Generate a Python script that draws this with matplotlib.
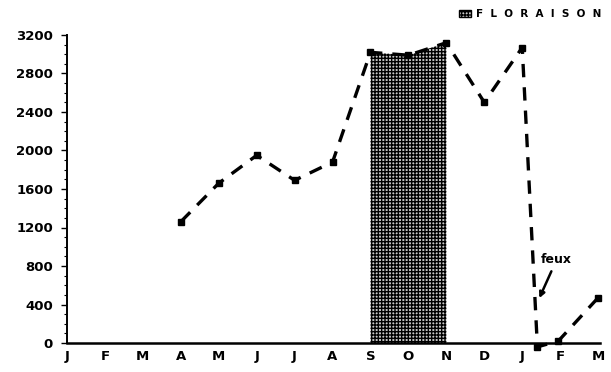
import matplotlib
matplotlib.use("Agg")
import matplotlib.pyplot as plt
from matplotlib.patches import Patch
import numpy as np

plt.rcParams['font.family'] = ['DejaVu Sans']
plt.rcParams['hatch.linewidth'] = 1.0

month_labels = ["J", "F", "M", "A", "M", "J", "J", "A", "S", "O", "N", "D", "J", "F", "M"]
# observation positions (month index) and values
obs_x = [3, 4, 5, 6, 7, 8, 9, 10, 11, 12, 12.4, 12.95, 14]
obs_y = [1260, 1660, 1950, 1690, 1880, 3020, 2990, 3120, 2500, 3070, -40, 20, 470]
flower_x = [8, 9, 10]
flower_y = [3020, 2990, 3120]
y_ticks = [0, 400, 800, 1200, 1600, 2000, 2400, 2800, 3200]

fig = plt.figure(figsize=(6.11, 3.72), dpi=100)
ax = fig.add_axes([67/611, 29/372, 533/611, 308/372])

ax.fill_between(flower_x, 0, flower_y, facecolor='#c8c8c8', edgecolor='black',
                hatch='+++++', linewidth=0, zorder=1)

ax.plot(obs_x, obs_y, color='black', linestyle=(0, (4, 3)), linewidth=2.4,
        marker='s', markersize=4.5, zorder=3, clip_on=False)

ax.annotate('feux', xy=(12.42, 440), xytext=(12.5, 800), fontsize=9, fontweight='bold',
            arrowprops=dict(arrowstyle='-|>', color='black', lw=1.8, mutation_scale=8),
            ha='left', va='bottom')

ax.set_xlim(0, 14.05)
ax.set_ylim(0, 3200)
ax.set_xticks(range(len(month_labels)))
ax.set_xticklabels(month_labels, fontsize=9.5, fontweight='bold')
ax.set_yticks(y_ticks)
ax.set_yticklabels([str(v) for v in y_ticks], fontsize=9.5, fontweight='bold')
ax.set_yticks(np.arange(0, 3201, 100), minor=True)
ax.tick_params(axis='x', length=0, pad=5)
ax.tick_params(axis='y', which='major', length=4, width=1, pad=6)
ax.tick_params(axis='y', which='minor', length=2, width=0.8)
for s in ['top', 'right']:
    ax.spines[s].set_visible(False)
ax.spines['left'].set_linewidth(1.4)
ax.spines['bottom'].set_linewidth(1.8)

handle = Patch(facecolor='#c8c8c8', edgecolor='black', hatch='+++++',
               label='F  L  O  R  A  I  S  O  N')
fig.legend(handles=[handle], loc='upper right', bbox_to_anchor=(1.0, 1.0), frameon=False,
           prop={'size': 7.5, 'weight': 'bold'}, handlelength=1.2, handleheight=0.7,
           handletextpad=0.5)

fig.savefig('out.png', dpi=100)
